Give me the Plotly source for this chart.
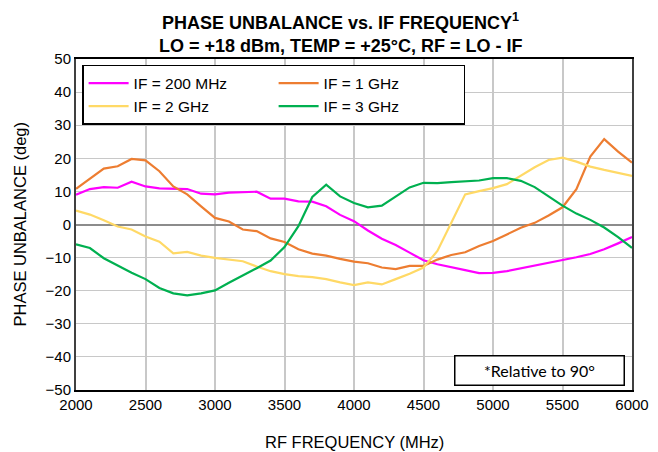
import plotly.graph_objects as go

rf_freq = list(range(2000, 6001, 100))

if_200mhz = [9.0, 10.7, 11.3, 11.1, 12.9, 11.5, 10.9, 10.7, 10.7, 9.3,
             9.1, 9.6, 9.7, 9.9, 7.8, 7.8, 7.0, 6.9, 5.5, 2.9,
             1.0, -1.8, -4.3, -6.2, -8.5, -10.8, -12.0, -12.8, -13.8, -14.7,
             -14.6, -14.1, -13.3, -12.5, -11.5, -10.7, -9.9, -8.9, -7.5, -5.7,
             -3.8]
if_1ghz = [10.8, 13.9, 16.9, 17.6, 19.8, 19.4, 16.1, 11.5, 9.1, 5.5,
           2.0, 0.9, -1.5, -2.0, -4.2, -5.3, -7.5, -8.8, -9.4, -10.4,
           -11.2, -11.7, -13.0, -13.5, -12.5, -12.5, -10.6, -9.2, -8.4, -6.5,
           -5.0, -3.0, -1.0, 0.5, 2.7, 5.2, 10.7, 20.5, 25.8, 22.0,
           18.7]
if_2ghz = [4.2, 3.0, 1.3, -0.6, -1.5, -3.6, -5.2, -8.7, -8.3, -9.4,
           -10.1, -10.7, -11.1, -12.7, -14.1, -15.0, -15.6, -15.9, -16.5, -17.5,
           -18.3, -17.5, -18.1, -16.5, -14.9, -13.0, -8.0, 0.5, 9.1, 10.1,
           11.0, 12.2, 14.7, 17.3, 19.5, 20.2, 19.0, 17.5, 16.5, 15.5,
           14.7]
if_3ghz = [-6.0, -7.1, -10.2, -12.5, -14.6, -16.5, -19.2, -20.8, -21.4, -20.8,
           -19.9, -17.6, -15.5, -13.2, -10.9, -6.8, -0.5, 8.3, 12.0, 8.5,
           6.5, 5.2, 5.7, 8.5, 11.2, 12.6, 12.5, 12.8, 13.0, 13.3,
           14.0, 14.0, 13.2, 11.3, 8.5, 5.7, 3.3, 1.4, -0.9, -3.8,
           -7.1]

series = [
    ("IF = 200 MHz", if_200mhz, "#FF00FF"),
    ("IF = 1 GHz", if_1ghz, "#ED7D31"),
    ("IF = 2 GHz", if_2ghz, "#FFD966"),
    ("IF = 3 GHz", if_3ghz, "#00B050"),
]

fig = go.Figure()
for name, vals, color in series:
    fig.add_trace(go.Scatter(x=rf_freq, y=vals, name=name, mode="lines",
                             line=dict(color=color, width=2.2)))

font = "Liberation Sans, Arial, sans-serif"

# page body has an 8px margin, so the figure is a bit smaller than the window
fig.update_layout(
    width=650, height=444,
    margin=dict(l=68, r=26, t=51, b=62),
    paper_bgcolor="white", plot_bgcolor="white",
    font=dict(family=font, size=15, color="black"),
    showlegend=True,
    legend=dict(
        orientation="h", x=0.011, xanchor="left", y=0.982, yanchor="top",
        entrywidth=135, entrywidthmode="pixels",
        bgcolor="white", bordercolor="black", borderwidth=1.5,
        font=dict(family=font, size=15.5, color="black"),
        itemwidth=40, tracegroupgap=0,
    ),
    xaxis=dict(
        range=[2000, 6000], tick0=2000, dtick=500,
        showgrid=True, gridcolor="#C8C8C8", gridwidth=2,
        showline=True, linecolor="black", linewidth=2, mirror=True,
        ticks="", tickfont=dict(size=15), automargin=False,
        zeroline=False,
    ),
    yaxis=dict(
        range=[-50, 50], tick0=-50, dtick=10,
        showgrid=True, gridcolor="#C8C8C8", gridwidth=1,
        zeroline=True, zerolinecolor="#8C8C8C", zerolinewidth=2,
        showline=True, linecolor="#404040", linewidth=2, mirror=True,
        ticks="", tickfont=dict(size=15), automargin=False,
    ),
)

# titles as annotations so their positions stay put
fig.add_annotation(
    x=0.5, y=1.0, xref="paper", yref="paper", showarrow=False,
    text="<b>PHASE UNBALANCE vs. IF FREQUENCY<sup>1</sup></b>",
    font=dict(family=font, size=18, color="black"),
    xanchor="center", yanchor="bottom", xshift=-14, yshift=24,
)
fig.add_annotation(
    x=0.5, y=1.0, xref="paper", yref="paper", showarrow=False,
    text="<b>LO = +18 dBm, TEMP = +25°C, RF = LO - IF</b>",
    font=dict(family=font, size=18, color="black"),
    xanchor="center", yanchor="bottom", xshift=-14, yshift=1,
)

fig.add_annotation(
    x=0.5, y=0, xref="paper", yref="paper", showarrow=False,
    text="RF FREQUENCY (MHz)", font=dict(family=font, size=16.5, color="black"),
    xanchor="center", yanchor="top", yshift=-41,
)
fig.add_annotation(
    x=0, y=0.5, xref="paper", yref="paper", showarrow=False, textangle=-90,
    text="PHASE UNBALANCE (deg)", font=dict(family=font, size=16.5, color="black"),
    xanchor="right", yanchor="middle", xshift=-46,
)

fig.add_annotation(
    x=0.987, y=0.012, xref="paper", yref="paper", xanchor="right", yanchor="bottom",
    text="*Relative to 90°", showarrow=False,
    font=dict(family="Lato, sans-serif", size=16, color="black"),
    bgcolor="white", bordercolor="black", borderwidth=1.5,
    width=166, height=26,
)

fig.write_html("out.html")
